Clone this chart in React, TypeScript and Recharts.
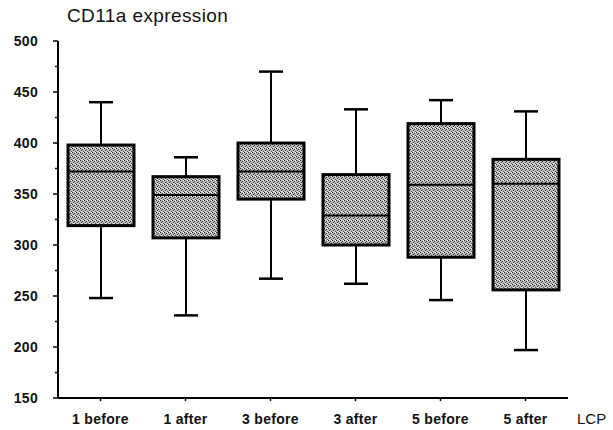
import React from "react";
import { ComposedChart, Bar, XAxis, YAxis } from "recharts";

const categories = ["1 before", "1 after", "3 before", "3 after", "5 before", "5 after"];
const whiskerLow = [248, 231, 267, 262, 246, 197];
const quartile1 = [319, 307, 345, 300, 288, 256];
const median = [372, 349, 372, 329, 359, 360];
const quartile3 = [398, 367, 400, 369, 419, 384];
const whiskerHigh = [440, 386, 470, 433, 442, 431];
const yTicks = [150, 175, 200, 225, 250, 275, 300, 325, 350, 375, 400, 425, 450, 475, 500];

const data = categories.map((name, i) => ({
    name,
    low: whiskerLow[i],
    q1: quartile1[i],
    med: median[i],
    q3: quartile3[i],
    high: whiskerHigh[i],
}));

const font = "'Liberation Sans', Arial, sans-serif";

const BoxShape = (props: any) => {
    const { x, y, width, height, payload, index } = props;
    const { low, q1, med, q3, high } = payload;
    // map a value to a pixel using the bar's own [low, high] extent
    const py = (v: number) => y + ((high - v) / (high - low)) * height;
    const cx = x + width / 2;
    const pid = `stipple-${index}`;
    return (
        <g>
            <defs>
                <pattern id={pid} width="4" height="4" patternUnits="userSpaceOnUse">
                    <rect width="4" height="4" fill="#bdbdbd" />
                    <rect x="0" y="0" width="1" height="1" fill="#222" />
                    <rect x="2" y="1" width="1" height="1" fill="#3a3a3a" />
                    <rect x="1" y="2" width="1" height="1" fill="#2e2e2e" />
                    <rect x="3" y="3" width="1" height="1" fill="#4a4a4a" />
                    <rect x="3" y="0" width="1" height="1" fill="#fff" />
                    <rect x="1" y="3" width="1" height="1" fill="#f0f0f0" />
                </pattern>
            </defs>
            <line x1={cx} x2={cx} y1={py(high)} y2={py(q3)} stroke="#000" strokeWidth={2} />
            <line x1={cx} x2={cx} y1={py(q1)} y2={py(low)} stroke="#000" strokeWidth={2} />
            <line x1={cx - 12} x2={cx + 12} y1={py(high)} y2={py(high)} stroke="#000" strokeWidth={2.5} />
            <line x1={cx - 12} x2={cx + 12} y1={py(low)} y2={py(low)} stroke="#000" strokeWidth={2.5} />
            <rect x={x} y={py(q3)} width={width} height={py(q1) - py(q3)} fill={`url(#${pid})`} stroke="#000" strokeWidth={3} />
            <line x1={x} x2={x + width} y1={py(med)} y2={py(med)} stroke="#000" strokeWidth={2} />
        </g>
    );
};

const YTick = (props: any) => {
    const { x, y, payload } = props;
    const major = payload.value % 50 === 0;
    return (
        <g>
            <line x1={x} x2={x - (major ? 5 : 3)} y1={y} y2={y} stroke="#000" strokeWidth={1.5} />
            {major && (
                <text x={x - 20} y={y} dy={5} textAnchor="end" fontFamily={font} fontSize={14} fontWeight="bold" fill="#111" letterSpacing={0.3}>
                    {payload.value}
                </text>
            )}
        </g>
    );
};

const XTick = (props: any) => {
    const { x, y, payload } = props;
    return (
        <g>
            <line x1={x} x2={x} y1={y} y2={y + 3} stroke="#000" strokeWidth={1.5} />
            <text x={x} y={y + 26} textAnchor="middle" fontFamily={font} fontSize={14} fontWeight="bold" fill="#111" letterSpacing={0.3}>
                {payload.value}
            </text>
        </g>
    );
};

export default function App() {
    return (
        <div style={{ position: "absolute", left: 0, top: 0, width: 613, height: 430, background: "#fff" }}>
            <div style={{ position: "absolute", left: 67, top: 5, fontFamily: font, fontSize: 19, color: "#111", letterSpacing: 0.4 }}>
                CD11a expression
            </div>
            <div style={{ position: "absolute", left: 577, top: 410, fontFamily: font, fontSize: 15, color: "#111" }}>LCP</div>
            <ComposedChart width={613} height={430} data={data} margin={{ top: 41, right: 45, left: 8, bottom: 2 }}>
                <XAxis
                    dataKey="name"
                    tickLine={false}
                    tickSize={0}
                    tickMargin={0}
                    tick={<XTick />}
                    axisLine={{ stroke: "#000", strokeWidth: 2 }}
                    height={30}
                    interval={0}
                />
                <YAxis
                    domain={[150, 500]}
                    ticks={yTicks}
                    interval={0}
                    tickLine={false}
                    tickSize={0}
                    tickMargin={0}
                    tick={<YTick />}
                    axisLine={{ stroke: "#000", strokeWidth: 2 }}
                    width={50}
                    allowDataOverflow
                />
                <Bar dataKey={(d: any) => [d.low, d.high]} barSize={66} shape={<BoxShape />} isAnimationActive={false} />
            </ComposedChart>
        </div>
    );
}
